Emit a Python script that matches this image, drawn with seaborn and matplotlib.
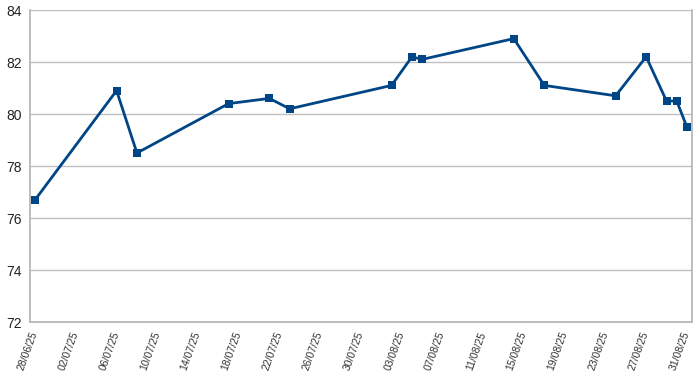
import pandas as pd
import numpy as np
import seaborn as sns
import matplotlib.pyplot as plt
import matplotlib.dates as mdates

# readings (taken around midday)
dates = ['2025-06-28 12:00', '2025-07-06 12:00', '2025-07-08 12:00', '2025-07-17 12:00',
         '2025-07-21 12:00', '2025-07-23 12:00', '2025-08-02 12:00', '2025-08-04 12:00',
         '2025-08-05 12:00', '2025-08-14 12:00', '2025-08-17 12:00', '2025-08-24 12:00',
         '2025-08-27 12:00', '2025-08-29 12:00', '2025-08-30 12:00', '2025-08-31 12:00']
values = [76.7, 80.9, 78.5, 80.4, 80.6, 80.2, 81.1, 82.2,
          82.1, 82.9, 81.1, 80.7, 82.2, 80.5, 80.5, 79.5]
y_ticks = [72, 74, 76, 78, 80, 82, 84]

df = pd.DataFrame({'date': pd.to_datetime(dates), 'value': values})

sns.set_style('white')
plt.rcParams['font.family'] = ['Liberation Sans', 'DejaVu Sans']

fig = plt.figure(figsize=(7, 3.77), dpi=100)
ax = fig.add_axes([30 / 700, 1 - 322 / 377, 662 / 700, 312 / 377])

sns.lineplot(data=df, x='date', y='value', ax=ax, color='#004586', linewidth=2,
             marker='s', markersize=6.3, markeredgewidth=0, zorder=3)

ax.set_xlim(pd.Timestamp('2025-06-28'), pd.Timestamp('2025-09-01'))
ax.set_ylim(72, 84)
ax.set_yticks(y_ticks)
ax.yaxis.grid(True, color='#c0c0c0', linewidth=1)

# major ticks every 4 days, minor every 2
ax.set_xticks(pd.date_range('2025-06-28', '2025-09-01', freq='4D'))
ax.set_xticks(pd.date_range('2025-06-28', '2025-09-01', freq='2D'), minor=True)
ax.xaxis.set_major_formatter(mdates.DateFormatter('%d/%m/%y'))

for side in ['left', 'right', 'bottom']:
    ax.spines[side].set_color('#b3b3b3')
    ax.spines[side].set_linewidth(1.2)
ax.spines['top'].set_visible(False)

ax.tick_params(axis='x', which='both', direction='out', length=4, color='#b3b3b3',
               labelsize=7.5, labelcolor='#333333', pad=2)
ax.tick_params(axis='y', direction='out', length=4, color='#b3b3b3',
               labelsize=10, labelcolor='#222222', pad=2)
plt.setp(ax.get_xticklabels(), rotation=70, ha='right', rotation_mode='anchor')

ax.set_xlabel('')
ax.set_ylabel('')

fig.savefig('out.png', dpi=100)
